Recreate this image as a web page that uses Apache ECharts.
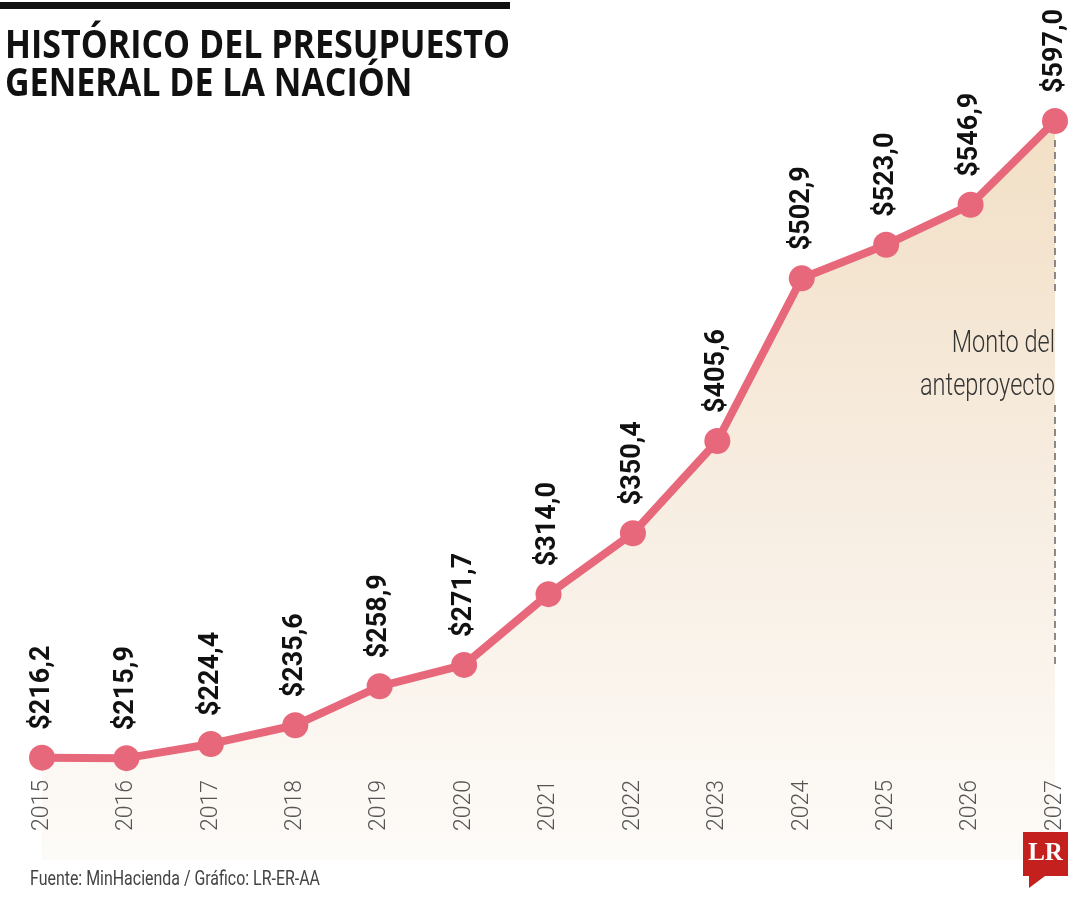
<!DOCTYPE html>
<html>
<head>
<meta charset="utf-8">
<script src="https://cdn.jsdelivr.net/npm/echarts@6/dist/echarts.min.js"></script>
<style>
    html, body { margin: 0; padding: 0; background: #ffffff; }
    #presupuesto { width: 1080px; height: 900px; }
</style>
</head>
<body>
<div id="presupuesto"></div>
<script>
// Data
var years = ['2015', '2016', '2017', '2018', '2019', '2020', '2021', '2022', '2023', '2024', '2025', '2026', '2027'];
var budget = [216.2, 215.9, 224.4, 235.6, 258.9, 271.7, 314.0, 350.4, 405.6, 502.9, 523.0, 546.9, 597.0];
// dashed guide under the 2027 point (two pieces, gap for the note)
var guideTop = [585.6, 492.9];
var guideBottom = [427.2, 271.8];

var EchartsPresupuesto = function() {

    // squeeze a text to a given width (the original uses a condensed face)
    var measureCtx = document.createElement('canvas').getContext('2d');
    var fitScale = function(text, font, width) {
        measureCtx.font = font;
        return width / measureCtx.measureText(text).width;
    };

    //
    // Setup module components
    //

    var _presupuestoLine = function() {
        if (typeof echarts == 'undefined') {
            console.warn('Warning - echarts.min.js is not loaded.');
            return;
        }

        // Define element
        var chart_element = document.getElementById('presupuesto');

        if (chart_element) {

            // Initialize chart
            var chart = echarts.init(chart_element);

            var pink = '#e8687b';
            var lastYear = years[years.length - 1];

            var titleFont = 'bold 40px "Open Sans"';
            var noteFont = '300 32px Roboto';
            var sourceFont = '21px Roboto';
            var sourceText = 'Fuente: MinHacienda / Gráfico: LR-ER-AA';

            //
            // Chart config
            //

            chart.setOption({

                animation: false,

                textStyle: {
                    fontFamily: 'Roboto, sans-serif'
                },

                grid: {
                    left: 42,
                    right: 25,
                    top: 121,
                    bottom: 40,
                    containLabel: false
                },

                xAxis: {
                    type: 'category',
                    data: years,
                    boundaryGap: false,
                    z: 5,
                    axisLine: { show: false },
                    axisTick: { show: false },
                    splitLine: { show: false },
                    axisLabel: {
                        inside: true,
                        rotate: 90,
                        margin: 29,
                        color: '#555',
                        fontSize: 23,
                        fontWeight: 300,
                        fontFamily: 'Roboto'
                    }
                },

                yAxis: {
                    type: 'value',
                    min: 155,
                    max: 597,
                    show: false,
                    splitLine: { show: false }
                },

                // Add series
                series: [{
                    name: 'Presupuesto',
                    type: 'line',
                    data: budget,
                    clip: false,
                    symbol: 'circle',
                    symbolSize: 26,
                    showAllSymbol: true,
                    z: 3,
                    lineStyle: {
                        color: pink,
                        width: 8
                    },
                    itemStyle: {
                        color: pink
                    },
                    areaStyle: {
                        opacity: 1,
                        color: new echarts.graphic.LinearGradient(0, 0, 0, 1, [
                            { offset: 0, color: '#f2dfc5' },
                            { offset: 0.5, color: '#f7ede1' },
                            { offset: 1, color: '#fdfbf8' }
                        ])
                    },
                    label: {
                        show: true,
                        position: 'top',
                        distance: 15,
                        rotate: 90,
                        align: 'left',
                        verticalAlign: 'middle',
                        color: '#111',
                        fontSize: 27,
                        fontWeight: 'bold',
                        fontFamily: 'Roboto',
                        formatter: function(p) {
                            return '$' + p.value.toFixed(1).replace('.', ',');
                        }
                    },
                    markLine: {
                        silent: true,
                        symbol: 'none',
                        label: { show: false },
                        lineStyle: {
                            color: '#666',
                            type: [7, 5],
                            width: 1.5
                        },
                        data: [
                            [{ coord: [lastYear, guideTop[0]] }, { coord: [lastYear, guideTop[1]] }],
                            [{ coord: [lastYear, guideBottom[0]] }, { coord: [lastYear, guideBottom[1]] }]
                        ]
                    }
                }],

                // Title, note, source and logo
                graphic: [
                    {
                        type: 'rect',
                        left: 0,
                        top: 2,
                        z: 10,
                        shape: { width: 510, height: 7 },
                        style: { fill: '#111' }
                    },
                    {
                        type: 'text',
                        x: 5,
                        y: 28,
                        z: 10,
                        scaleX: fitScale('HISTÓRICO DEL PRESUPUESTO', titleFont, 505),
                        style: {
                            text: 'HISTÓRICO DEL PRESUPUESTO\nGENERAL DE LA NACIÓN',
                            font: titleFont,
                            lineHeight: 38,
                            fill: '#111'
                        }
                    },
                    {
                        type: 'text',
                        x: 1055,
                        y: 322,
                        z: 10,
                        scaleX: fitScale('anteproyecto', noteFont, 135),
                        style: {
                            text: 'Monto del\nanteproyecto',
                            font: noteFont,
                            lineHeight: 43,
                            align: 'right',
                            fill: '#333'
                        }
                    },
                    {
                        type: 'text',
                        x: 30,
                        y: 869,
                        z: 10,
                        scaleX: fitScale(sourceText, sourceFont, 290),
                        style: {
                            text: sourceText,
                            font: sourceFont,
                            fill: '#444'
                        }
                    },
                    {
                        type: 'group',
                        x: 1023,
                        y: 832,
                        z: 20,
                        children: [
                            {
                                type: 'polygon',
                                z: 20,
                                shape: { points: [[0, 0], [45, 0], [45, 44], [22, 44], [6, 56], [6, 44], [0, 44]] },
                                style: { fill: '#c4201e' }
                            },
                            {
                                type: 'text',
                                x: 22.5,
                                y: 22,
                                z: 21,
                                style: {
                                    text: 'LR',
                                    font: 'bold 25px "Liberation Serif", "DejaVu Serif", serif',
                                    fill: '#ffffff',
                                    align: 'center',
                                    verticalAlign: 'middle'
                                }
                            }
                        ]
                    }
                ]
            });

            //
            // Resize charts
            //

            var resizeCharts;
            window.addEventListener('resize', function() {
                clearTimeout(resizeCharts);
                resizeCharts = setTimeout(function () {
                    chart.resize();
                }, 200);
            });
        }
    };

    return {
        init: function() {
            _presupuestoLine();
        }
    }
}();

document.addEventListener('DOMContentLoaded', function() {
    EchartsPresupuesto.init();
});
</script>
</body>
</html>
